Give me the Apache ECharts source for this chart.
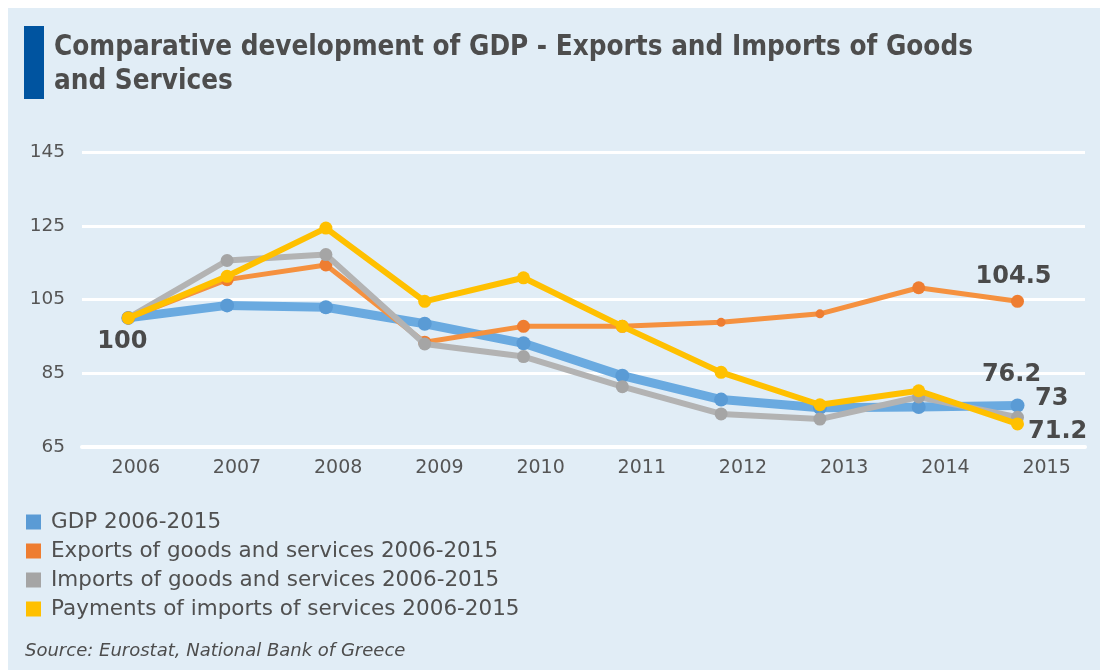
<!DOCTYPE html>
<html>
<head>
<meta charset="utf-8">
<script src="https://cdn.jsdelivr.net/npm/echarts@6/dist/echarts.min.js"></script>
<style>
html,body{margin:0;padding:0;background:#ffffff;}
#chart{width:1100px;height:670px;}
</style>
</head>
<body>
<div id="chart"></div>
<script>
const years = ['2006','2007','2008','2009','2010','2011','2012','2013','2014','2015'];
const yTicks = [65, 85, 105, 125, 145];
const gdp      = [100, 103.4, 102.9, 98.4, 93.1, 84.3, 77.8, 75.6, 75.8, 76.2];
const exportsS = [100, 110.4, 114.4, 93.4, 97.7, 97.7, 98.8, 101.1, 108.2, 104.5];
const importsS = [100, 115.6, 117.2, 92.9, 89.5, 81.3, 73.9, 72.5, 78.5, 73];
const payments = [100, 111.3, 124.4, 104.5, 110.9, 97.7, 85.2, 76.4, 80.2, 71.2];
const seriesNames = [
  'GDP 2006-2015',
  'Exports of goods and services 2006-2015',
  'Imports of goods and services 2006-2015',
  'Payments of imports of services 2006-2015'
];
const titleText = 'Comparative development of GDP - Exports and Imports of Goods\nand Services';
const sourceText = 'Source: Eurostat, National Bank of Greece';

const chart = echarts.init(document.getElementById('chart'));
const TOP = 152.3, BOTTOM = 670 - 446.7;
const labelStyle = {fontFamily:'DejaVu Sans', fontWeight:'bold', fontSize:24, color:'#4a4a4a'};

function withLabels(vals, labels){
  return vals.map((v,i)=>{
    if (labels[i]) return {value:v, label:Object.assign({show:true, formatter: String(v)}, labelStyle, labels[i])};
    return v;
  });
}

const option = {
  animation:false,
  graphic:[
    {type:'rect', left:8, top:8, shape:{width:1092, height:662}, style:{fill:'#E1EDF6'}, z:-10, silent:true},
    {type:'rect', left:24, top:26, shape:{width:20, height:73}, style:{fill:'#0054A0'}, z:-5}
  ],
  title:[
    {text:titleText, left:49, top:26, textStyle:{fontFamily:'DejaVu Sans Condensed', fontWeight:'bold', fontSize:27.6, lineHeight:34, color:'#4d4d4d'}},
    {text:sourceText, left:20, top:637, textStyle:{fontFamily:'DejaVu Sans', fontStyle:'italic', fontWeight:'normal', fontSize:18, color:'#4d4d4d'}}
  ],
  legend:{
    orient:'vertical', left:21, top:506, itemWidth:15, itemHeight:15, itemGap:7,
    icon:'rect',
    data:seriesNames,
    textStyle:{fontFamily:'DejaVu Sans', fontSize:21.5, color:'#505050', padding:[0,0,0,5]}
  },
  grid:[
    {left:82, right:15, top:TOP, bottom:BOTTOM},
    {left:85.2, right:2.8, top:TOP, bottom:BOTTOM},
    {left:128.3, right:82.5, top:TOP, bottom:BOTTOM}
  ],
  xAxis:[
    {gridIndex:0, type:'category', data:years, boundaryGap:true,
     axisLine:{show:true, lineStyle:{color:'#ffffff', width:4}}, axisTick:{show:false}, axisLabel:{show:false}},
    {gridIndex:1, type:'category', data:years, boundaryGap:true,
     axisLine:{show:false}, axisTick:{show:false},
     axisLabel:{show:true, fontFamily:'DejaVu Sans', fontSize:19, color:'#555555', margin:12}},
    {gridIndex:2, type:'category', data:years, boundaryGap:false, show:false}
  ],
  yAxis:[
    {gridIndex:0, type:'value', min:yTicks[0], max:yTicks[yTicks.length-1], interval:20,
     axisLine:{show:false}, axisTick:{show:false},
     axisLabel:{fontFamily:'DejaVu Sans', fontSize:18.5, color:'#555555', margin:17},
     splitLine:{lineStyle:{color:'#ffffff', width:3}}},
    {gridIndex:1, type:'value', min:65, max:145, show:false, splitLine:{show:false}},
    {gridIndex:2, type:'value', min:65, max:145, show:false, splitLine:{show:false}}
  ],
  series:[
    {name:seriesNames[0], type:'line', xAxisIndex:2, yAxisIndex:2, z:2,
     color:'#6AAAE0', lineStyle:{width:9, color:'#6AAAE0'}, symbol:'circle', symbolSize:14,
     itemStyle:{color:'#5A9BD5'},
     data:withLabels(gdp, {9:{position:'top', offset:[-6,-7]}})},
    {name:seriesNames[1], type:'line', xAxisIndex:2, yAxisIndex:2, z:3,
     color:'#F5913F', lineStyle:{width:5, color:'#F5913F'}, symbol:'circle',
     symbolSize:(v,p)=> (p.dataIndex===6||p.dataIndex===7)?9:13,
     itemStyle:{color:'#EE7D31'},
     data:withLabels(exportsS, {9:{position:'top', offset:[-4,-1]}})},
    {name:seriesNames[2], type:'line', xAxisIndex:2, yAxisIndex:2, z:4,
     color:'#B3B3B3', lineStyle:{width:6, color:'#B3B3B3'}, symbol:'circle', symbolSize:13,
     itemStyle:{color:'#A5A5A5'},
     data:withLabels(importsS, {9:{position:'right', offset:[6,-18]}})},
    {name:seriesNames[3], type:'line', xAxisIndex:2, yAxisIndex:2, z:5,
     color:'#FFC000', lineStyle:{width:6, color:'#FFC000'}, symbol:'circle', symbolSize:13,
     itemStyle:{color:'#FFC000'},
     data:withLabels(payments, {0:{position:'bottom', offset:[-6,0]}, 9:{position:'right', offset:[-1,8]}})}
  ]
};
chart.setOption(option);
</script>
</body>
</html>
